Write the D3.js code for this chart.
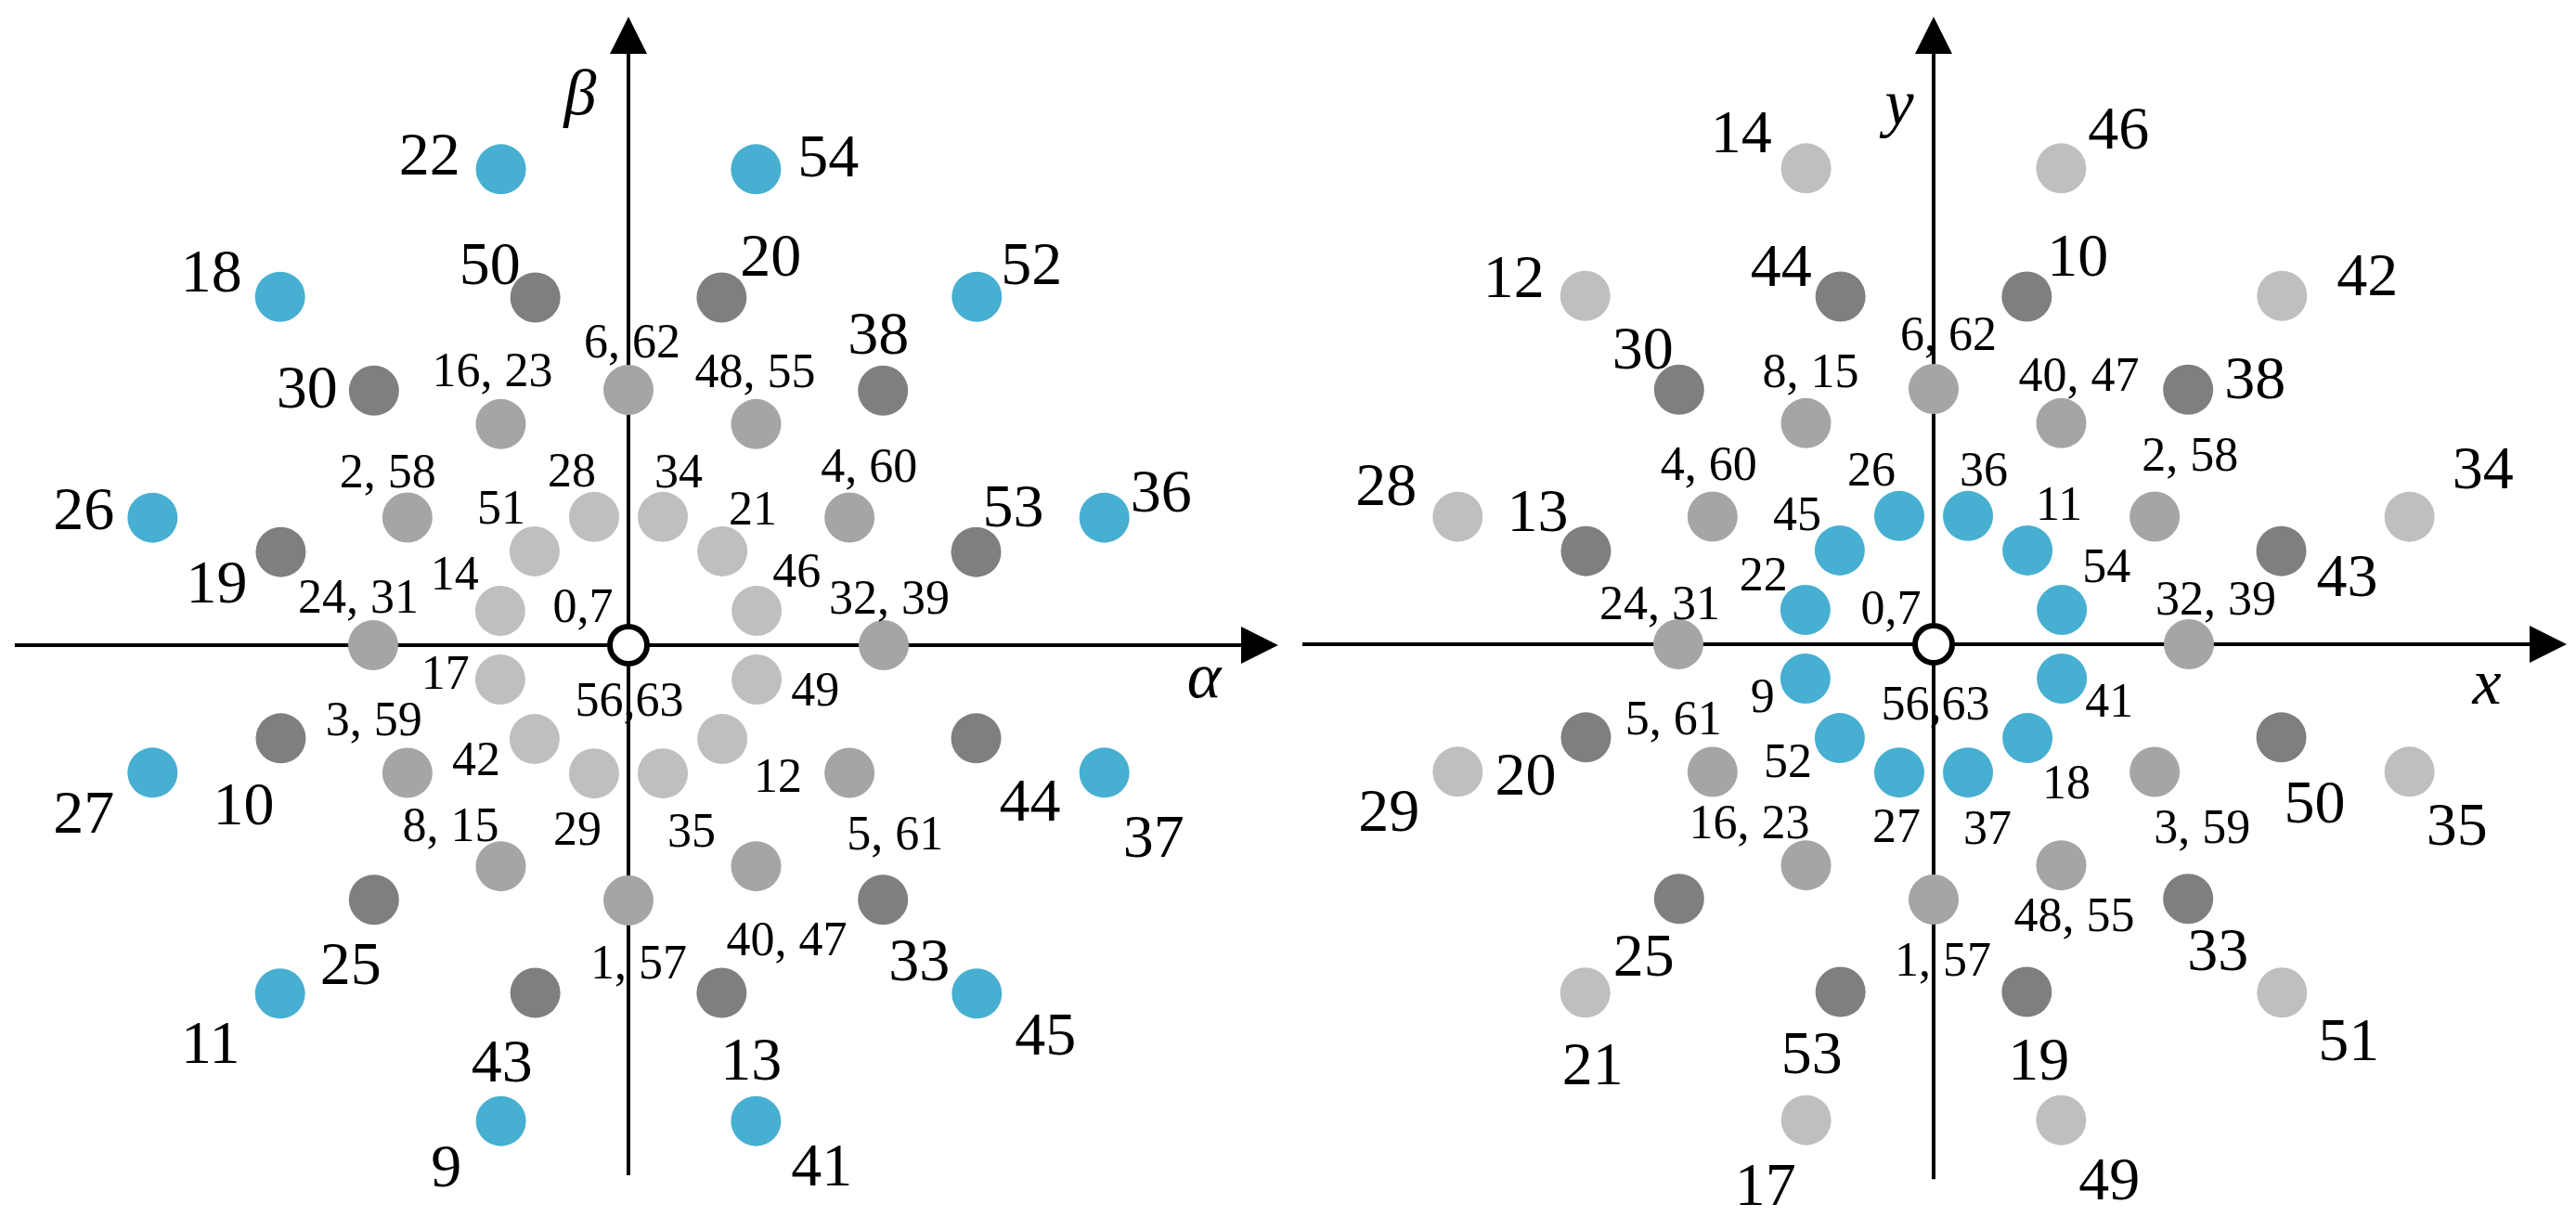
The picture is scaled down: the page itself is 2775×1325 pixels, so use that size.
<!DOCTYPE html>
<html>
<head>
<meta charset="utf-8">
<script src="https://cdn.jsdelivr.net/npm/d3@7"></script>
<style>
body { margin: 0; background: #fff; }
text { font-family: "Liberation Serif", "DejaVu Serif", serif; fill: #000; }
</style>
</head>
<body>
<svg id="chart" width="2775" height="1325"></svg>
<script>
"use strict";

// ring magnitudes, relative to the ring at 0°, 30°, 60° ...
var magnitudes = [0.52, 1.0, 1.41, 1.93];
var anglesOdd  = [15, 45, 75, 105, 135, 165, 195, 225, 255, 285, 315, 345];
var anglesEven = [0, 30, 60, 90, 120, 150, 180, 210, 240, 270, 300, 330];

// alpha-beta plane, labels per ring in angle order
var abInner = ["46", "21", "34", "28", "51", "14", "17", "42", "29", "35", "12", "49"];
var abMid   = ["32, 39", "4, 60", "48, 55", "6, 62", "16, 23", "2, 58", "24, 31", "3, 59", "8, 15", "1, 57", "40, 47", "5, 61"];
var abDark  = ["53", "38", "20", "50", "30", "19", "10", "25", "43", "13", "33", "44"];
var abOuter = ["36", "52", "54", "22", "18", "26", "27", "11", "9", "41", "45", "37"];

// x-y plane
var xyInner = ["54", "11", "36", "26", "45", "22", "9", "52", "27", "37", "18", "41"];
var xyMid   = ["32, 39", "2, 58", "40, 47", "6, 62", "8, 15", "4, 60", "24, 31", "5, 61", "16, 23", "1, 57", "48, 55", "3, 59"];
var xyDark  = ["43", "38", "10", "44", "30", "13", "20", "25", "53", "19", "33", "50"];
var xyOuter = ["34", "42", "46", "14", "12", "28", "29", "21", "17", "49", "51", "35"];

var zeroLabels = ["0,7", "56,63"];

// label placement (pixel offset of label centre from its dot)
var abInnerOff = [[43,-44],[33,-47],[17,-50],[-24,-51],[-36,-48],[-49,-41],[-59,-8],[-63,21],[-18,59],[31,61],[60,39],[63,10]];
var abMidOff   = [[6,-52],[21,-56],[-1,-58],[4,-53],[-9,-59],[-21,-50],[-16,-53],[-36,-58],[-54,-45],[11,66],[33,78],[49,65]];
var abDarkOff  = [[40,-50],[-5,-62],[53,-46],[-49,-37],[-72,-4],[-69,32],[-40,70],[-25,68],[-36,73],[32,71],[39,64],[58,66]];
var abOuterOff = [[61,-29],[59,-36],[78,-15],[-77,-17],[-74,-28],[-74,-10],[-74,42],[-75,52],[-59,48],[71,47],[74,43],[53,68]];
var abZeroOff  = [[-49,-43],[1,58]];

var xyInnerOff = [[48,-48],[34,-51],[17,-51],[-30,-51],[-46,-40],[-45,-39],[-46,18],[-56,24],[-3,57],[21,59],[42,47],[51,23]];
var xyMidOff   = [[29,-50],[38,-67],[19,-53],[16,-60],[5,-57],[-4,-57],[-20,-45],[-42,-58],[-61,-47],[10,64],[14,53],[51,59]];
var xyDarkOff  = [[71,26],[72,-13],[55,-45],[-64,-34],[-39,-45],[-52,-44],[-65,39],[-38,60],[-31,65],[13,72],[32,54],[36,69]];
var xyOuterOff = [[79,-53],[92,-23],[62,-44],[-70,-40],[-77,-21],[-77,-35],[-74,41],[8,76],[-44,69],[52,63],[72,50],[51,56]];
var xyZeroOff  = [[-46,-40],[2,63]];

var BLUE = "#47AFD1", DARK = "#7F7F7F", MID = "#A5A5A5", LIGHT = "#BFBFBF";
var R = 275;          // pixels per unit magnitude
var SMALL = 52, LARGE = 66;

var svg = d3.select("#chart");

svg.append("defs").append("marker")
   .attr("id", "arrow")
   .attr("markerUnits", "userSpaceOnUse")
   .attr("markerWidth", 40)
   .attr("markerHeight", 40)
   .attr("viewBox", "0 0 40 40")
   .attr("refX", 0)
   .attr("refY", 20)
   .attr("orient", "auto")
   .append("path")
   .attr("d", "M0,0L40,20L0,40Z")
   .attr("fill", "#000");

function drawPanel(cfg) {
	var g = svg.append("g");
	var x = d3.scaleLinear().domain([-1, 1]).range([cfg.cx - R, cfg.cx + R]);
	var y = d3.scaleLinear().domain([-1, 1]).range([cfg.cy + R, cfg.cy - R]);
	var head = 40 / R;

	// axes, the arrow head sits beyond the end of each line
	g.append("line")
	 .attr("x1", x(cfg.hAxis[0])).attr("y1", y(0))
	 .attr("x2", x(cfg.hAxis[1] - head)).attr("y2", y(0))
	 .attr("stroke", "#000").attr("stroke-width", 4)
	 .attr("marker-end", "url(#arrow)");
	g.append("line")
	 .attr("x1", x(0)).attr("y1", y(cfg.vAxis[0]))
	 .attr("x2", x(0)).attr("y2", y(cfg.vAxis[1] - head))
	 .attr("stroke", "#000").attr("stroke-width", 4)
	 .attr("marker-end", "url(#arrow)");

	var pts = [];
	cfg.rings.forEach(function(ring, ri) {
		ring.labels.forEach(function(lab, i) {
			var a = ring.angles[i] * Math.PI / 180;
			pts.push({
				a: magnitudes[ri] * Math.cos(a),
				b: magnitudes[ri] * Math.sin(a),
				label: lab,
				color: ring.color,
				size: ri < 2 ? SMALL : LARGE,
				off: ring.off[i]
			});
		});
	});

	g.selectAll("circle.pt")
	 .data(pts)
	 .enter()
	 .append("circle")
	 .attr("class", "pt")
	 .attr("cx", d=>x(d.a))
	 .attr("cy", d=>y(d.b))
	 .attr("r", 27)
	 .attr("fill", d=>d.color);

	g.append("circle")
	 .attr("cx", x(0)).attr("cy", y(0))
	 .attr("r", 20)
	 .attr("fill", "#fff")
	 .attr("stroke", "#000")
	 .attr("stroke-width", 6);

	cfg.zero.forEach(function(lab, i) {
		pts.push({a: 0, b: 0, label: lab, size: SMALL, off: cfg.zeroOff[i]});
	});

	g.selectAll("text.lab")
	 .data(pts)
	 .enter()
	 .append("text")
	 .attr("class", "lab")
	 .attr("x", d=>x(d.a) + d.off[0])
	 .attr("y", d=>y(d.b) + d.off[1] + 0.34 * d.size)
	 .attr("text-anchor", "middle")
	 .style("font-size", d=>d.size + "px")
	 .text(d=>d.label);

	// axis names
	g.append("text")
	 .attr("x", cfg.hName[1]).attr("y", cfg.hName[2])
	 .attr("text-anchor", "middle")
	 .style("font-size", "70px").style("font-style", "italic")
	 .text(cfg.hName[0]);
	g.append("text")
	 .attr("x", cfg.vName[1]).attr("y", cfg.vName[2])
	 .attr("text-anchor", "middle")
	 .style("font-size", "70px").style("font-style", "italic")
	 .text(cfg.vName[0]);
}

drawPanel({
	cx: 677, cy: 695,
	hAxis: [-2.404, 2.545], vAxis: [-2.076, 2.462],
	hName: ["α", 1297, 751], vName: ["β", 625, 123],
	rings: [
		{labels: abInner, angles: anglesOdd,  color: LIGHT, off: abInnerOff},
		{labels: abMid,   angles: anglesEven, color: MID,   off: abMidOff},
		{labels: abDark,  angles: anglesOdd,  color: DARK,  off: abDarkOff},
		{labels: abOuter, angles: anglesOdd,  color: BLUE,  off: abOuterOff}
	],
	zero: zeroLabels, zeroOff: abZeroOff
});

drawPanel({
	cx: 2083, cy: 694,
	hAxis: [-2.473, 2.48], vAxis: [-2.095, 2.458],
	hName: ["x", 2679, 758], vName: ["y", 2046, 134],
	rings: [
		{labels: xyInner, angles: anglesOdd,  color: BLUE,  off: xyInnerOff},
		{labels: xyMid,   angles: anglesEven, color: MID,   off: xyMidOff},
		{labels: xyDark,  angles: anglesOdd,  color: DARK,  off: xyDarkOff},
		{labels: xyOuter, angles: anglesOdd,  color: LIGHT, off: xyOuterOff}
	],
	zero: zeroLabels, zeroOff: xyZeroOff
});
</script>
</body>
</html>
